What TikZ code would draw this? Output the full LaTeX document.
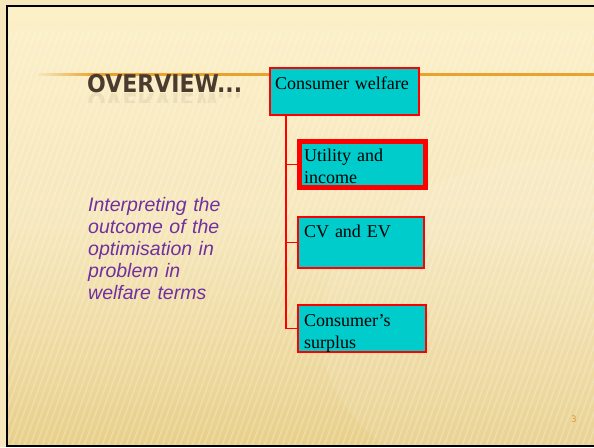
\documentclass[tikz,border=0pt]{standalone}
\usepackage{fontspec}
\setmainfont{Liberation Serif}
\newfontfamily\titlefont{DejaVu Sans Condensed}
\newfontfamily\notefont{Liberation Sans}
\usetikzlibrary{positioning}

\definecolor{paper}{HTML}{F6E7BC}
\definecolor{papertop}{HTML}{FCF0C8}
\definecolor{paperbot}{HTML}{E8CF8A}
\definecolor{rule}{HTML}{EAA22E}
\definecolor{titlebrown}{HTML}{4B3B2F}
\definecolor{notepurple}{HTML}{7030A0}
\definecolor{boxcyan}{HTML}{00CCCC}
\definecolor{pagenum}{HTML}{D9962C}

\begin{document}
\begin{tikzpicture}
  [x=1pt, y=-1pt,
   title/.style={anchor=base west, inner sep=0pt, text=titlebrown,
     font=\titlefont\bfseries\fontsize{24.5}{28}\selectfont},
   note/.style={anchor=base west, inner sep=0pt, text=notepurple,
     text width=170pt, align=left,
     font=\notefont\itshape\fontsize{19.5}{22}\selectfont},
   box/.style={draw=red, fill=boxcyan, line width=1.3pt, anchor=north west,
     align=left, inner ysep=0pt, outer sep=0pt,
     font=\fontsize{18}{22}\selectfont},
   stripe/.style={line width=1.6pt, white, opacity=0.22},
   link/.style={draw=red, line width=1.5pt},
  ]
  \useasboundingbox (0,0) rectangle (594,447);
  \fill[paper] (0,0) rectangle (594,447);
  \shade[top color=papertop, bottom color=paperbot, middle color=paper]
    (7,6) rectangle (594,446);
  \fill[white, opacity=0.08] (560,330) ellipse [x radius=240pt, y radius=170pt];
  \begin{scope}
    \clip (7,30) rectangle (594,446);
    \foreach \i in {0,...,125}
      \draw[stripe] ({\i*6-150},446) -- ++(150,-416);
  \end{scope}
  \draw[line width=2pt, black] (594,6) -- (7,6) -- (7,446) -- (594,446);

  \shade[left color=paper, right color=rule] (38,73) rectangle (95,75.5);
  \fill[rule] (95,73) rectangle (594,75.5);

  \node[title] (heading) at (87,92) {OVERVIEW...};
  \begin{scope}
    \clip (80,93) rectangle (250,102);
    \node[title, yscale=-1, opacity=0.08, transform shape] at (87,93) {OVERVIEW...};
  \end{scope}

  \node[note] (aim) at (88,211)
    {Interpreting the\\outcome of the\\optimisation in\\problem in\\welfare terms};

  \node[box, text width=139pt, inner xsep=5pt, text height=21pt, text depth=26pt]
    (welfare) at (270,68) {Consumer welfare\\ \mbox{}};
  \node[box, line width=5pt, text width=117pt, inner xsep=4.5pt,
    text height=19.5pt, text depth=26.5pt]
    (utility) at (299.5,141.5) {Utility and\\income};
  \node[box, text width=114pt, inner xsep=6pt, text height=20pt, text depth=31pt]
    (cvev) at (298,217) {CV and EV\\ \mbox{}};
  \node[box, text width=116pt, inner xsep=6pt, text height=21pt, text depth=26pt]
    (surplus) at (298,305) {Consumer's\\surplus};

  \coordinate (spine) at ([xshift=16pt]welfare.south west);
  \draw[link] (spine) |- (surplus.west);
  \foreach \b in {utility,cvev}
    \draw[link] (spine |- \b.west) -- (\b.west);

  \node[inner sep=0pt, text=pagenum, font=\titlefont\fontsize{9}{9}\selectfont]
    (slideno) at (574,419) {3};
\end{tikzpicture}
\end{document}
